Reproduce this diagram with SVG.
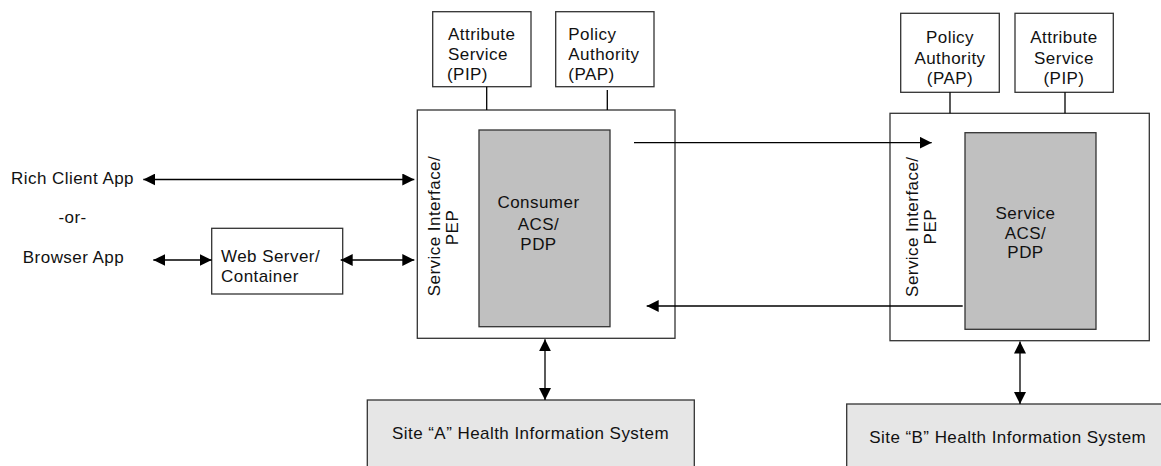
<svg xmlns="http://www.w3.org/2000/svg" width="1161" height="466" viewBox="0 0 1161 466">
<style>
.t{font-family:"Liberation Sans",Arial,sans-serif;font-size:17px;letter-spacing:0.45px;fill:#111}
.c{text-anchor:middle}
.box{fill:#fff;stroke:#333;stroke-width:1.3}
.acs{fill:#c0c0c0;stroke:#333;stroke-width:1.3}
.his{fill:#e6e6e6;stroke:#333;stroke-width:1.3}
.ln{stroke:#000;stroke-width:1.3;fill:none}
.ar{marker-end:url(#ah)}
.ar2{marker-end:url(#ah);marker-start:url(#ah)}
</style>
<defs>
<marker id="ah" markerUnits="userSpaceOnUse" markerWidth="13" markerHeight="12" refX="12" refY="6" orient="auto-start-reverse">
<path d="M0,0 L12,6 L0,12 z" fill="#000"/>
</marker>
</defs>
<rect width="1161" height="466" fill="#fff"/>

<g id="consumer">
<rect class="box" x="417.3" y="110" width="257.7" height="228.3"/>
<rect class="acs" x="479" y="130" width="131" height="196.7"/>
<text class="t c" x="538.5" y="208.3">Consumer</text>
<text class="t c" x="538.5" y="229.5">ACS/</text>
<text class="t c" x="538.5" y="250">PDP</text>
<text class="t c" transform="translate(440,226) rotate(-90)">Service Interface/</text>
<text class="t c" transform="translate(458,227.5) rotate(-90)">PEP</text>
</g>

<g id="service">
<rect class="box" x="890" y="113.3" width="259.3" height="227.4"/>
<rect class="acs" x="965" y="132.7" width="131" height="196.6"/>
<text class="t c" x="1025.5" y="219.3">Service</text>
<text class="t c" x="1025.5" y="238.5">ACS/</text>
<text class="t c" x="1025.5" y="258.3">PDP</text>
<text class="t c" transform="translate(918,226.7) rotate(-90)">Service Interface/</text>
<text class="t c" transform="translate(935.5,226.7) rotate(-90)">PEP</text>
</g>

<g id="pip-a">
<rect class="box" x="432.7" y="11.7" width="98.3" height="75"/>
<text class="t" x="448" y="39.5">Attribute</text>
<text class="t" x="448" y="59.5">Service</text>
<text class="t" x="447" y="79.5">(PIP)</text>
</g>

<g id="pap-a">
<rect class="box" x="555.7" y="11.7" width="98.3" height="75"/>
<text class="t" x="568.3" y="39.5">Policy</text>
<text class="t" x="568.3" y="59.5">Authority</text>
<text class="t" x="568.3" y="79.5">(PAP)</text>
</g>

<g id="pap-b">
<rect class="box" x="900.7" y="13.3" width="98.6" height="79"/>
<text class="t c" x="950" y="43">Policy</text>
<text class="t c" x="950" y="63.5">Authority</text>
<text class="t c" x="950" y="84">(PAP)</text>
</g>

<g id="pip-b">
<rect class="box" x="1015" y="13.3" width="98.3" height="79"/>
<text class="t c" x="1064" y="43">Attribute</text>
<text class="t c" x="1064" y="63.5">Service</text>
<text class="t c" x="1064" y="84">(PIP)</text>
</g>

<g id="web-server">
<rect class="box" x="211.7" y="228.3" width="131" height="65.7"/>
<text class="t" x="221" y="261.7">Web Server/</text>
<text class="t" x="221" y="281.7">Container</text>
</g>

<g id="rich-client">
<text class="t c" x="72.5" y="184">Rich Client App</text>
</g>
<g id="or-label">
<text class="t c" x="72.5" y="223.3">-or-</text>
</g>
<g id="browser">
<text class="t c" x="73.5" y="263.3">Browser App</text>
</g>

<g id="site-a">
<rect class="his" x="367.3" y="400" width="327" height="70"/>
<text class="t c" x="530.5" y="439.3">Site “A” Health Information System</text>
</g>

<g id="site-b">
<rect class="his" x="846.7" y="404" width="330" height="70"/>
<text class="t c" x="1007.7" y="443.3">Site “B” Health Information System</text>
</g>

<g id="connectors">
<line class="ln" x1="486.7" y1="86.7" x2="486.7" y2="110"/>
<line class="ln" x1="607.3" y1="90" x2="607.3" y2="110"/>
<line class="ln" x1="950" y1="92.3" x2="950" y2="113.3"/>
<line class="ln" x1="1065" y1="92.3" x2="1065" y2="113.3"/>
<line class="ln ar2" x1="143.3" y1="179.5" x2="414.3" y2="179.5"/>
<line class="ln ar2" x1="153.3" y1="260" x2="211.7" y2="260"/>
<line class="ln ar2" x1="340.7" y1="260" x2="414.3" y2="260"/>
<line class="ln ar" x1="634" y1="142.7" x2="931.7" y2="142.7"/>
<line class="ln ar" x1="962.7" y1="306" x2="646.7" y2="306"/>
<line class="ln ar2" x1="545" y1="339.3" x2="545" y2="400"/>
<line class="ln ar2" x1="1020" y1="341.5" x2="1020" y2="404"/>
</g>
</svg>
